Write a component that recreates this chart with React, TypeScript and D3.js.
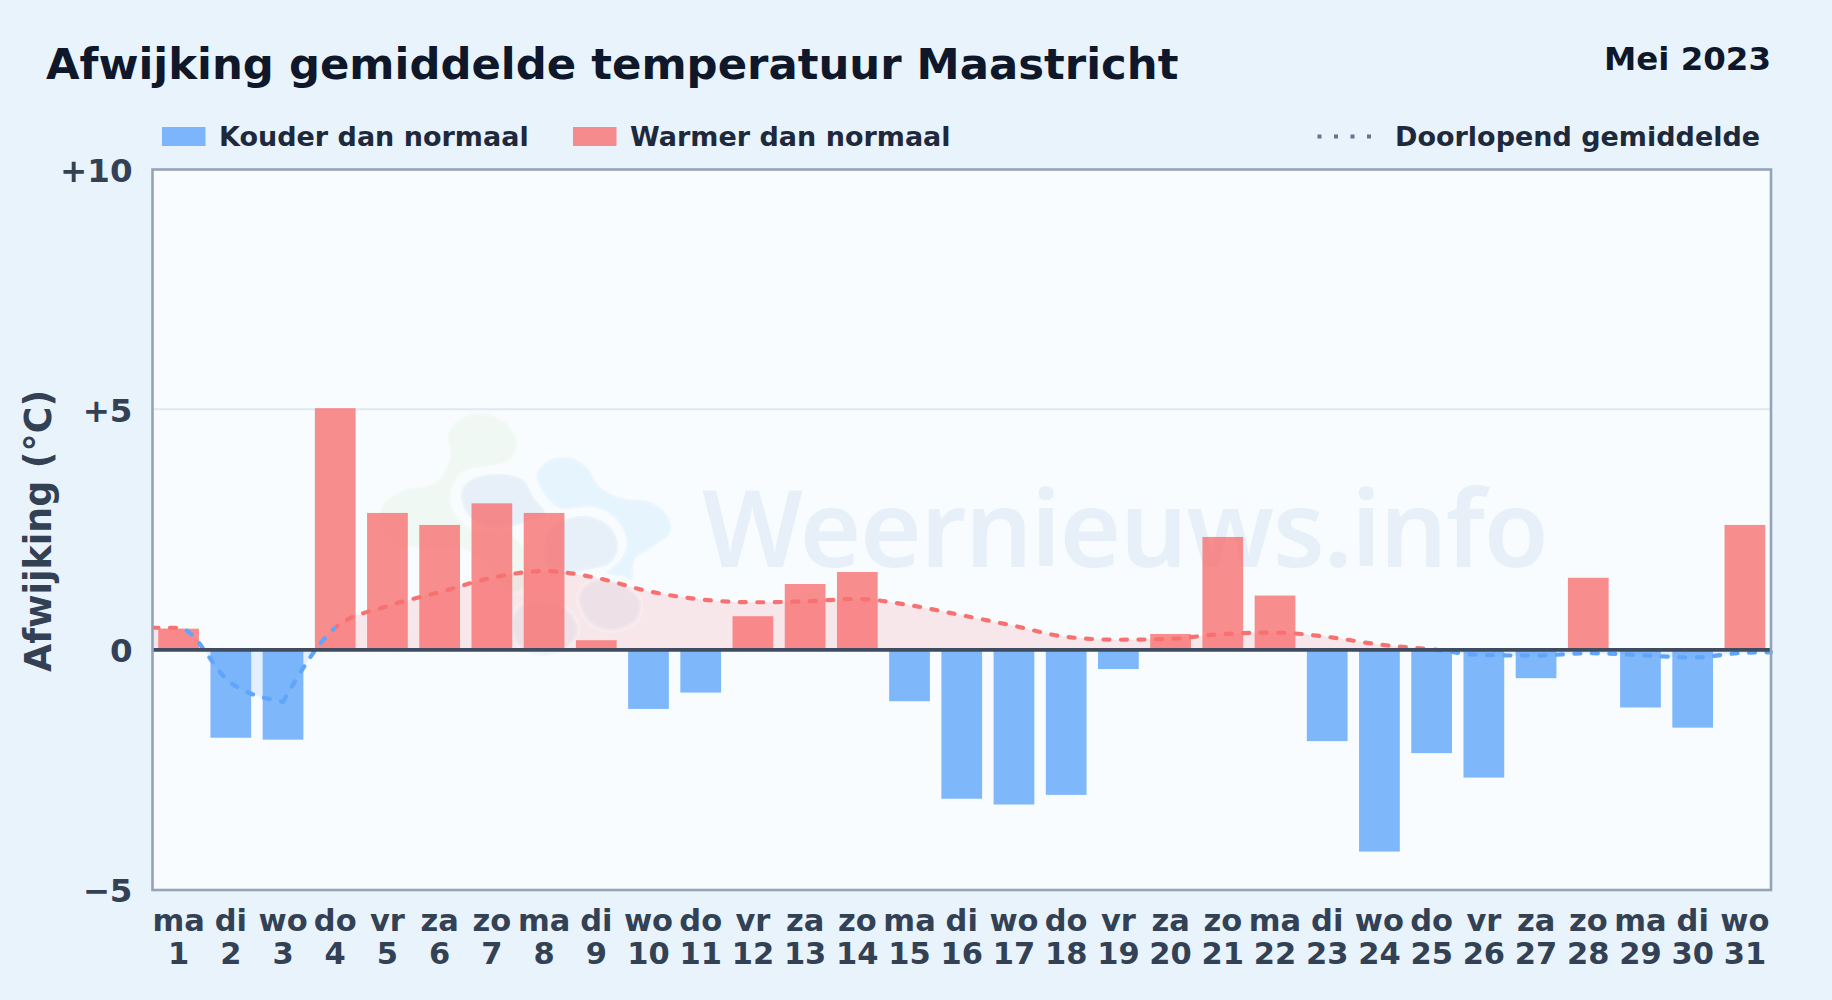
import { useEffect, useRef } from 'react';
import * as d3 from 'd3';

// ─── Data ───────────────────────────────────────────────────

const WEEKDAYS = ['ma', 'di', 'wo', 'do', 'vr', 'za', 'zo', 'ma', 'di', 'wo', 'do', 'vr', 'za', 'zo', 'ma', 'di', 'wo', 'do', 'vr', 'za', 'zo', 'ma', 'di', 'wo', 'do', 'vr', 'za', 'zo', 'ma', 'di', 'wo'];
const DAYS = [1, 2, 3, 4, 5, 6, 7, 8, 9, 10, 11, 12, 13, 14, 15, 16, 17, 18, 19, 20, 21, 22, 23, 24, 25, 26, 27, 28, 29, 30, 31];
const DEVIATION = [0.44, -1.83, -1.87, 5.03, 2.85, 2.6, 3.05, 2.85, 0.2, -1.23, -0.89, 0.7, 1.37, 1.62, -1.07, -3.1, -3.22, -3.02, -0.4, 0.33, 2.35, 1.13, -1.9, -4.2, -2.15, -2.66, -0.59, 1.5, -1.2, -1.62, 2.6];
const RUNNING = [0.46, -0.69, -1.08, 0.46, 0.91, 1.2, 1.5, 1.64, 1.5, 1.22, 1.05, 0.99, 1.01, 1.06, 0.93, 0.72, 0.5, 0.27, 0.21, 0.23, 0.33, 0.36, 0.27, 0.11, 0.01, -0.11, -0.12, -0.07, -0.11, -0.16, -0.06];
const RUNNING_START = 0.46;
const RUNNING_END = -0.05;
const Y_TICKS = [-5, 0, 5, 10];
const Y_LABELS = ['−5', '0', '+5', '+10'];

// ─── Constants ──────────────────────────────────────────────

const WIDTH = 1832;
const HEIGHT = 1000;
const FONT = '"DejaVu Sans", sans-serif';
const LEFT = 152.5;
const RIGHT = 1771;
const TOP = 169.5;
const BOTTOM = 890;
const BLUE = '#60a5fa';
const RED = '#f87171';
const INK = '#334155';

// faint logo behind the bars, traced in a 3x space (see translate below)
const LOGO: { pts: [number, number][]; color: string; alpha: number }[] = [
  { color: '#b5dc8e', alpha: 0.1, pts: [[265, 100], [300, 55], [370, 40], [440, 70], [472, 130], [450, 180], [380, 200], [310, 215], [275, 270], [280, 330], [340, 390], [440, 400], [490, 440], [500, 560], [440, 580], [390, 500], [300, 445], [180, 445], [100, 425], [60, 370], [70, 310], [130, 270], [230, 245], [270, 170]] },
  { color: '#2b6cb0', alpha: 0.08, pts: [[305, 270], [340, 235], [420, 222], [490, 240], [520, 290], [555, 340], [490, 370], [400, 385], [340, 360], [310, 320]] },
  { color: '#38a5f5', alpha: 0.09, pts: [[530, 220], [570, 180], [630, 172], [680, 200], [720, 260], [790, 295], [870, 305], [925, 350], [930, 400], [880, 440], [825, 480], [815, 540], [790, 530], [740, 520], [780, 480], [800, 430], [770, 360], [700, 322], [600, 325], [550, 280]] },
  { color: '#2b6cb0', alpha: 0.08, pts: [[612, 360], [680, 348], [750, 380], [775, 440], [750, 490], [680, 510], [612, 520], [560, 500], [560, 400]] },
  { color: '#2b6cb0', alpha: 0.05, pts: [[655, 590], [690, 545], [770, 545], [840, 600], [830, 660], [760, 692], [690, 670]] },
  { color: '#2b6cb0', alpha: 0.05, pts: [[455, 660], [490, 610], [610, 620], [655, 690], [620, 745], [550, 768], [490, 750], [460, 710]] },
];

// ─── Component ──────────────────────────────────────────────

export default function App() {
  const svgRef = useRef<SVGSVGElement>(null);

  useEffect(() => {
    if (!svgRef.current) return;
    const svg = d3.select(svgRef.current);
    svg.selectAll('*').remove();
    svg.style('font-family', FONT).style('font-weight', 700);

    const x = d3.scaleBand<number>().domain(DAYS).range([LEFT, RIGHT]).paddingInner(0.22).paddingOuter(0.11);
    const y = d3.scaleLinear().domain([-5, 10]).range([BOTTOM, TOP]);
    const cx = (d: number) => (x(d) as number) + x.bandwidth() / 2;

    svg.append('rect').attr('width', WIDTH).attr('height', HEIGHT).attr('fill', '#e9f3fc');

    // Plot background
    svg.append('rect')
      .attr('x', LEFT).attr('y', TOP)
      .attr('width', RIGHT - LEFT).attr('height', BOTTOM - TOP)
      .attr('fill', '#f8fcff');

    // Grid
    svg.append('line')
      .attr('x1', LEFT).attr('x2', RIGHT)
      .attr('y1', y(5) - 0.5).attr('y2', y(5) - 0.5)
      .attr('stroke', '#e2e8f0').attr('stroke-width', 2);

    // Running mean: kink at day 3, so the curve is built from two parts
    type Pt = { px: number; v: number };
    const pts: Pt[] = [
      { px: LEFT, v: RUNNING_START },
      ...DAYS.map((d, i) => ({ px: cx(d), v: RUNNING[i] })),
      { px: RIGHT, v: RUNNING_END },
    ];
    const parts = [pts.slice(0, 4), pts.slice(3)];
    const line = d3.line<Pt>().x((d) => d.px).y((d) => y(d.v)).curve(d3.curveMonotoneX);
    const area = d3.area<Pt>().x((d) => d.px).y0(y(0)).y1((d) => y(d.v)).curve(d3.curveMonotoneX);

    const defs = svg.append('defs');
    defs.append('clipPath').attr('id', 'above').append('rect')
      .attr('x', LEFT).attr('y', TOP).attr('width', RIGHT - LEFT).attr('height', y(0) - TOP);
    defs.append('clipPath').attr('id', 'below').append('rect')
      .attr('x', LEFT).attr('y', y(0)).attr('width', RIGHT - LEFT).attr('height', BOTTOM - y(0));
    // line colour switches at data points, not at the zero crossing
    const blueRuns: [number, number][] = [[cx(1), cx(4)], [cx(25), RIGHT + 4]];
    const redRuns: [number, number][] = [[LEFT, cx(1)], [cx(4), cx(25)]];
    const addRuns = (id: string, runs: [number, number][]) => {
      const c = defs.append('clipPath').attr('id', id);
      runs.forEach(([a, b]) => {
        c.append('rect').attr('x', a).attr('y', TOP).attr('width', b - a).attr('height', BOTTOM - TOP);
      });
    };
    addRuns('run-blue', blueRuns);
    addRuns('run-red', redRuns);

    // Area between running mean and zero
    parts.forEach((p) => {
      svg.append('path').attr('d', area(p)).attr('fill', RED).attr('fill-opacity', 0.15).attr('clip-path', 'url(#above)');
      svg.append('path').attr('d', area(p)).attr('fill', BLUE).attr('fill-opacity', 0.15).attr('clip-path', 'url(#below)');
    });

    // Watermark
    const blob = d3.line<[number, number]>().curve(d3.curveCatmullRomClosed);
    const logo = svg.append('g').attr('transform', 'translate(360,400) scale(0.3333)');
    LOGO.forEach((b) => {
      logo.append('path')
        .attr('d', blob(b.pts))
        .attr('fill', b.color).attr('fill-opacity', b.alpha)
        .attr('stroke', '#ffffff').attr('stroke-opacity', 0.2).attr('stroke-width', 14);
    });
    svg.append('text')
      .attr('x', 702).attr('y', 567)
      .attr('font-family', '"Noto Sans", sans-serif')
      .attr('font-weight', 600).attr('font-size', 106)
      .attr('textLength', 847)
      .attr('fill', '#2b6cb0').attr('fill-opacity', 0.08)
      .text('Weernieuws.info');

    // Bars
    svg.append('g').selectAll('rect')
      .data(DAYS)
      .join('rect')
      .attr('x', (d) => x(d) as number)
      .attr('width', x.bandwidth())
      .attr('y', (_, i) => y(Math.max(0, DEVIATION[i])))
      .attr('height', (_, i) => Math.abs(y(DEVIATION[i]) - y(0)))
      .attr('fill', (_, i) => (DEVIATION[i] < 0 ? BLUE : RED))
      .attr('fill-opacity', 0.8);

    // Running mean line
    const drawLine = (id: string, color: string) => {
      const g = svg.append('g').attr('clip-path', `url(#${id})`);
      parts.forEach((p) => {
        g.append('path')
          .attr('d', line(p))
          .attr('fill', 'none')
          .attr('stroke', color)
          .attr('stroke-width', 4.2)
          .attr('stroke-linecap', 'round')
          .attr('stroke-dasharray', '6 11.5');
      });
    };
    drawLine('run-red', RED);
    drawLine('run-blue', BLUE);

    // Zero line
    svg.append('line')
      .attr('x1', LEFT).attr('x2', RIGHT)
      .attr('y1', y(0)).attr('y2', y(0))
      .attr('stroke', '#3f4b5f').attr('stroke-width', 3.7);

    // Plot frame
    svg.append('rect')
      .attr('x', LEFT).attr('y', TOP)
      .attr('width', RIGHT - LEFT).attr('height', BOTTOM - TOP)
      .attr('fill', 'none').attr('stroke', '#94a3b8').attr('stroke-width', 2.6);

    // Axes
    svg.append('g')
      .attr('transform', `translate(${LEFT},0)`)
      .call(d3.axisLeft(y).tickValues(Y_TICKS).tickSize(0).tickPadding(20)
        .tickFormat((d) => Y_LABELS[Y_TICKS.indexOf(d as number)]))
      .call((sel) => sel.select('.domain').remove())
      .call((sel) => sel.selectAll('text')
        .attr('dy', '0.36em')
        .attr('fill', INK).attr('font-size', 32.5).attr('font-family', FONT).attr('font-weight', 700));

    const xAxis = svg.append('g')
      .attr('transform', `translate(0,${BOTTOM})`)
      .call(d3.axisBottom(x).tickSize(0).tickFormat(() => ''))
      .call((sel) => sel.select('.domain').remove());
    xAxis.selectAll<SVGTextElement, number>('text')
      .attr('fill', INK).attr('font-size', 30.5).attr('font-family', FONT).attr('font-weight', 700)
      .attr('y', 0).attr('dy', null)
      .each(function (d, i) {
        const t = d3.select(this);
        t.append('tspan').attr('x', 0).attr('y', 41).text(WEEKDAYS[i]);
        t.append('tspan').attr('x', 0).attr('y', 74).text(d);
      });

    // Y title
    svg.append('text')
      .attr('transform', 'translate(51,531) rotate(-90)')
      .attr('text-anchor', 'middle')
      .attr('fill', INK).attr('font-size', 36.4)
      .text('Afwijking (°C)');

    // Titles
    svg.append('text').attr('x', 46).attr('y', 79)
      .attr('fill', '#0f172a').attr('font-size', 43.36)
      .text('Afwijking gemiddelde temperatuur Maastricht');
    svg.append('text').attr('x', 1771).attr('y', 70).attr('text-anchor', 'end')
      .attr('fill', '#0f172a').attr('font-size', 32.45)
      .text('Mei 2023');

    // Legend
    const legend = svg.append('g').attr('font-size', 27).attr('fill', '#1e293b');
    const swatch = (sx: number, color: string, label: string) => {
      legend.append('rect').attr('x', sx).attr('y', 127).attr('width', 43.5).attr('height', 19)
        .attr('fill', color).attr('fill-opacity', 0.8);
      legend.append('text').attr('x', sx + 57).attr('y', 146).text(label);
    };
    swatch(162, BLUE, 'Kouder dan normaal');
    swatch(573, RED, 'Warmer dan normaal');
    legend.append('line')
      .attr('x1', 1317.5).attr('x2', 1373)
      .attr('y1', 136.5).attr('y2', 136.5)
      .attr('stroke', '#64748b').attr('stroke-width', 4)
      .attr('stroke-dasharray', '4 12.5');
    legend.append('text').attr('x', 1395).attr('y', 146).text('Doorlopend gemiddelde');
  }, []);

  return (
    <svg
      ref={svgRef}
      width={WIDTH}
      height={HEIGHT}
      style={{ position: 'absolute', left: 0, top: 0, display: 'block' }}
    />
  );
}
